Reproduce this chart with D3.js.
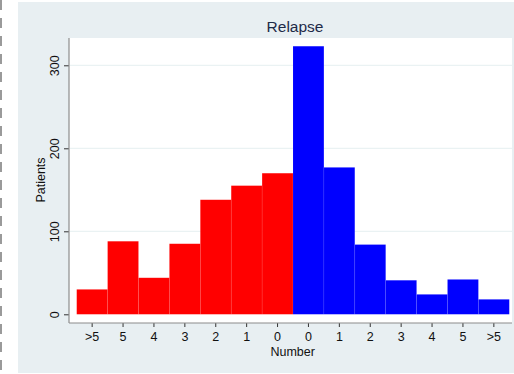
<!DOCTYPE html>
<html>
<head>
<meta charset="utf-8">
<script src="https://cdn.jsdelivr.net/npm/d3@7"></script>
<style>
  body { margin: 0; background: #fff; }
  svg { display: block; font-family: "Liberation Sans", Arial, sans-serif; }
</style>
</head>
<body>
<div id="chart"></div>
<script>
// left half (red) and right half (blue) of the histogram
const leftLabels = ['>5', '5', '4', '3', '2', '1', '0'];
const leftCounts = [30, 88, 44, 85, 138, 155, 170];
const rightLabels = ['0', '1', '2', '3', '4', '5', '>5'];
const rightCounts = [323, 177, 84, 41, 24, 42, 18];
const yTicks = [0, 100, 200, 300];

const data = leftLabels.map((l, i) => ({label: l, count: leftCounts[i], color: '#ff0000'}))
    .concat(rightLabels.map((l, i) => ({label: l, count: rightCounts[i], color: '#0000ff'})));
data.forEach((d, i) => d.key = i);

const W = 514, H = 374;
const plot = {left: 69, right: 512, top: 38, bottom: 323};

const svg = d3.select('#chart')
    .append('svg')
    .attr('width', W)
    .attr('height', H);

// dashed border on the far left
svg.append('line')
    .attr('x1', 1).attr('x2', 1)
    .attr('y1', 0).attr('y2', H)
    .attr('stroke', '#9a9a9a')
    .attr('stroke-width', 2)
    .attr('stroke-dasharray', '10,8');

// outer background
svg.append('rect')
    .attr('x', 18).attr('y', 2)
    .attr('width', W - 18).attr('height', 371)
    .attr('fill', '#e8eff2');

// plot area
svg.append('rect')
    .attr('x', plot.left).attr('y', plot.top)
    .attr('width', plot.right - plot.left)
    .attr('height', plot.bottom - plot.top)
    .attr('fill', '#ffffff');

const x = d3.scaleBand()
    .domain(data.map(d => d.key))
    .range([76.7, 509.3])
    .padding(0);

const y = d3.scaleLinear()
    .domain([0, 300])
    .range([314.3, 65.3]);

// gridlines
svg.append('g')
    .selectAll('line')
    .data(yTicks.filter(t => t > 0))
    .enter()
    .append('line')
    .attr('x1', plot.left + 1)
    .attr('x2', plot.right)
    .attr('y1', d => y(d))
    .attr('y2', d => y(d))
    .attr('stroke', '#eaf2f3')
    .attr('stroke-width', 1.2);

// bars
svg.append('g')
    .selectAll('rect')
    .data(data)
    .enter()
    .append('rect')
    .attr('x', d => x(d.key))
    .attr('y', d => y(d.count))
    .attr('width', x.bandwidth())
    .attr('height', d => y(0) - y(d.count))
    .attr('fill', d => d.color)
    .attr('stroke', 'rgba(255,255,255,0.12)')
    .attr('stroke-width', 0.6);

// y axis
const yAxis = svg.append('g')
    .attr('transform', `translate(${plot.left},0)`)
    .call(d3.axisLeft(y).tickValues(yTicks).tickSize(5).tickPadding(4).tickSizeOuter(0));
yAxis.select('.domain').remove();
yAxis.append('line')
    .attr('x1', 0).attr('x2', 0)
    .attr('y1', plot.top).attr('y2', plot.bottom)
    .attr('stroke', '#8c8c8c')
    .attr('stroke-width', 1.2);
yAxis.selectAll('.tick line').attr('stroke', '#333');
yAxis.selectAll('.tick text')
    .attr('x', null).attr('dy', null)
    .attr('transform', 'translate(-10,0) rotate(-90)')
    .attr('text-anchor', 'middle')
    .attr('fill', '#111')
    .style('font-size', '12.5px');

// x axis
const xAxis = svg.append('g')
    .attr('transform', `translate(0,${plot.bottom})`)
    .call(d3.axisBottom(x).tickFormat(k => data[k].label).tickSize(4).tickPadding(5).tickSizeOuter(0));
xAxis.select('.domain').remove();
xAxis.append('line')
    .attr('x1', plot.left).attr('x2', plot.right)
    .attr('y1', 0).attr('y2', 0)
    .attr('stroke', '#8c8c8c')
    .attr('stroke-width', 1.2);
xAxis.selectAll('.tick line').attr('stroke', '#333');
xAxis.selectAll('.tick text')
    .attr('fill', '#111')
    .style('font-size', '12.5px');

// axis titles
svg.append('text')
    .attr('x', 292.7)
    .attr('y', 355.7)
    .attr('text-anchor', 'middle')
    .attr('fill', '#111')
    .style('font-size', '12.5px')
    .text('Number');

svg.append('text')
    .attr('transform', 'translate(44.5,180) rotate(-90)')
    .attr('text-anchor', 'middle')
    .attr('fill', '#111')
    .style('font-size', '12.5px')
    .text('Patients');

// title
svg.append('text')
    .attr('x', 295)
    .attr('y', 31.5)
    .attr('text-anchor', 'middle')
    .attr('fill', '#1e2a48')
    .style('font-size', '15.5px')
    .text('Relapse');
</script>
</body>
</html>
